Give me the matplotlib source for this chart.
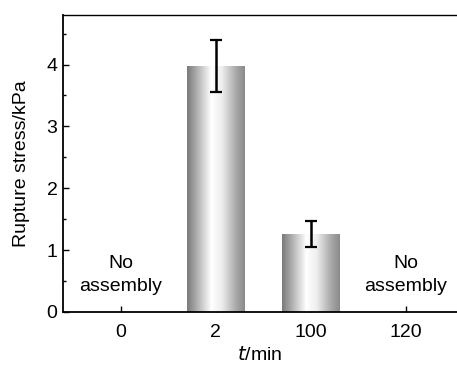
import numpy as np
import matplotlib
matplotlib.use("Agg")
from matplotlib import pyplot as plt
from matplotlib.colors import LinearSegmentedColormap
from matplotlib.ticker import MultipleLocator

plt.rcParams['font.family'] = ['Liberation Sans', 'DejaVu Sans']
plt.rcParams['font.size'] = 14

# data
categories = ['0', '2', '100', '120']
values = [0, 3.97, 1.26, 0]
errors = [0, 0.42, 0.21, 0]
has_bar = [False, True, True, False]
no_assembly = [True, False, False, True]

fig = plt.figure(figsize=(4.57, 3.67), dpi=100)
ax = fig.add_axes([0.138, 0.150, 0.862, 0.809])

x = np.arange(len(categories))
bw = 0.61

# grey gradient for bars (dark edges, white centre)
grad = LinearSegmentedColormap.from_list('g', [
    (0.0, '#7a7a7a'), (0.15, '#a8a8a8'), (0.42, '#ffffff'),
    (0.6, '#eeeeee'), (0.85, '#a8a8a8'), (1.0, '#8a8a8a')])
row = np.linspace(0, 1, 256).reshape(1, -1)

for xi, v, e, hb in zip(x, values, errors, has_bar):
    if not hb:
        continue
    bars = ax.bar(xi, v, width=bw, color='none', edgecolor='none', zorder=2)
    p = bars.patches[0]
    im = ax.imshow(row, cmap=grad, aspect='auto', zorder=2,
                   extent=[xi - bw / 2, xi + bw / 2, 0, v], interpolation='bilinear')
    im.set_clip_path(p)
    ax.errorbar(xi, v, yerr=e, fmt='none', ecolor='black', elinewidth=1.8,
                capsize=4, capthick=1.6, zorder=3)

for xi, na in zip(x, no_assembly):
    if na:
        ax.text(xi, 0.6, 'No\nassembly', ha='center', va='center',
                linespacing=1.5)

ax.set_xlim(-0.61, 3.54)
ax.set_ylim(0, 4.8)
ax.set_xticks(x)
ax.set_xticklabels(categories)
ax.yaxis.set_major_locator(MultipleLocator(1))
ax.yaxis.set_minor_locator(MultipleLocator(0.5))
ax.tick_params(axis='both', which='both', direction='in', top=False, right=False)
ax.tick_params(axis='both', which='major', length=4, width=1)
ax.tick_params(axis='y', which='minor', length=2.5, width=1)
ax.tick_params(axis='x', pad=9)
ax.tick_params(axis='y', pad=4)
ax.spines['right'].set_visible(False)
for s in ['left', 'bottom']:
    ax.spines[s].set_linewidth(1.3)
ax.spines['top'].set_linewidth(1.0)

ax.set_xlabel('$\\mathit{t}$/min', labelpad=3)
ax.set_ylabel('Rupture stress/kPa', labelpad=12)

fig.savefig('out.png', dpi=100)
